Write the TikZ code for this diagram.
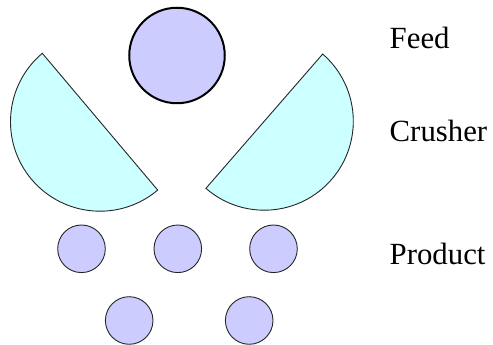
\documentclass[tikz,border=0pt]{standalone}
\usepackage{fontspec}
\setmainfont{Liberation Serif}
\definecolor{lav}{HTML}{CCCCFF}
\definecolor{cyanlt}{HTML}{CCFFFF}
\begin{document}
\begin{tikzpicture}[x=1pt,y=1pt,
  feedc/.style={circle,draw=black,line width=2pt,fill=lav,minimum size=95.5pt,inner sep=0pt},
  prodc/.style={circle,draw=black!85,line width=0.9pt,fill=lav,minimum size=47.6pt,inner sep=0pt},
  crush/.style={draw=black!85,line width=0.9pt,fill=cyanlt,line join=miter},
  lbl/.style={anchor=base west,inner sep=0pt,font=\fontsize{30.8}{36}\selectfont}]
\useasboundingbox (0,0) rectangle (493,345);
% crushers
\draw[crush] (100,223.3) ++(130.15:89.5) arc[start angle=130.15,end angle=310.15,radius=89.5] -- cycle;
\draw[crush] (264.3,223.8) ++(49:89) arc[start angle=49,end angle=-131,radius=89] -- cycle;
% feed
\node[feedc] (feed) at (177,289.5) {};
% products
\node[prodc] (p1) at (81.5,96.2) {};
\node[prodc] (p2) at (177.8,96.2) {};
\node[prodc] (p3) at (273.5,96.2) {};
\node[prodc] (p4) at (129.2,24.5) {};
\node[prodc] (p5) at (249.2,24.5) {};
% labels
\node[lbl] (tfeed) at (389.5,296.7) {Feed};
\node[lbl] (tcrush) at (389.5,203.3) {Crusher};
\node[lbl] (tprod) at (389.5,80) {Product};
\end{tikzpicture}
\end{document}
